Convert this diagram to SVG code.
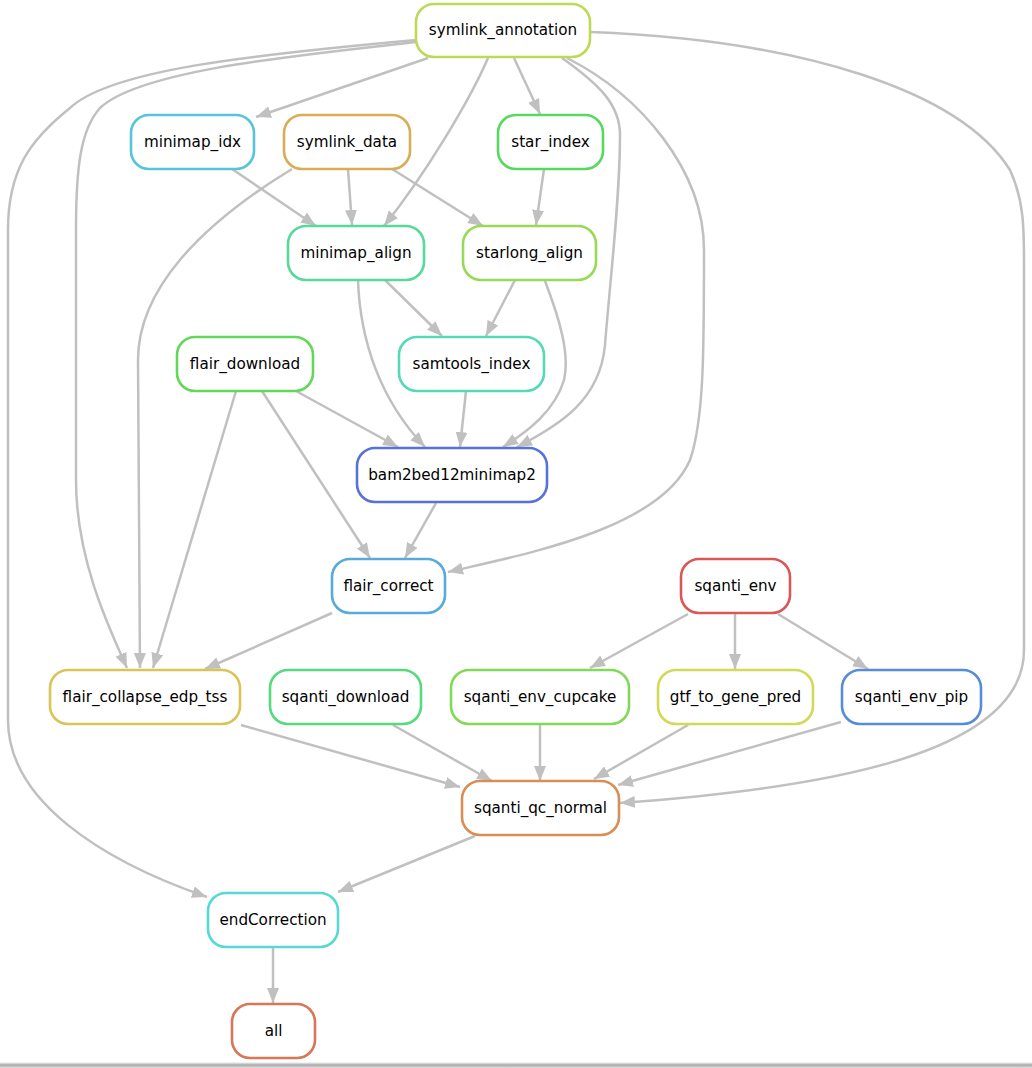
<svg xmlns="http://www.w3.org/2000/svg" width="1032" height="1068" viewBox="0 0 1032 1068">
<style>
.n rect{fill:#fff;stroke-width:2.6}
.n text{font-family:"DejaVu Sans",sans-serif;font-size:15.2px;fill:#000;text-anchor:middle}
.e path{fill:none;stroke:#c0c0c0;stroke-width:2.5;marker-end:url(#ah)}
</style>
<defs>
<marker id="ah" markerUnits="userSpaceOnUse" markerWidth="16" markerHeight="12" refX="15" refY="6" orient="auto">
<path d="M0,0 L15,6 L0,12 z" fill="#c0c0c0"/>
</marker>
<linearGradient id="sh" x1="0" y1="0" x2="0" y2="1">
<stop offset="0" stop-color="#fff"/>
<stop offset="0.5" stop-color="#a8a8a8"/>
<stop offset="1" stop-color="#e0e0e0"/>
</linearGradient>
</defs>
<rect x="0" y="0" width="1032" height="1068" fill="#fff"/>
<rect x="0" y="1062" width="1032" height="6" fill="url(#sh)"/>
<g id="connectors" class="e">
<path d="M428,58 L256,117"/>
<path d="M488,58 C470,100 425,175 384,226"/>
<path d="M514,58 L540,114"/>
<path d="M562,58 C600,85 620,105 620,135 C620,200 610,280 605,345 C600,400 560,425 517,447"/>
<path d="M567,58 C640,95 704,170 704,250 C704,350 704,420 690,460 C660,530 520,555 448,572"/>
<path d="M416,42 C300,55 140,70 100,108 C80,130 76,170 76,230 L76,480 C76,560 110,630 127,668"/>
<path d="M416,40 C250,55 110,70 70,108 C30,140 8,170 8,230 L8,720 C8,800 100,860 207,897"/>
<path d="M590,32 C800,40 960,90 1010,170 C1024,200 1024,230 1024,260 L1024,650 C1024,760 800,790 620,803"/>
<path d="M348,169 L352,225"/>
<path d="M392,169 L483,226"/>
<path d="M292,169 C200,225 138,290 138,360 L140,668"/>
<path d="M232,169 L316,226"/>
<path d="M544,169 L536,225"/>
<path d="M385,280 L442,336"/>
<path d="M358,280 C360,340 380,400 425,447"/>
<path d="M515,280 L486,336"/>
<path d="M545,281 C560,320 570,355 564,380 C555,410 530,430 503,447"/>
<path d="M296,391 L398,447"/>
<path d="M262,391 L370,558"/>
<path d="M236,391 L153,668"/>
<path d="M466,391 L460,447"/>
<path d="M436,503 L405,558"/>
<path d="M332,613 L205,669"/>
<path d="M688,614 L590,668"/>
<path d="M735,614 L735,669"/>
<path d="M778,614 L868,669"/>
<path d="M241,725 L460,787"/>
<path d="M393,725 L492,781"/>
<path d="M540,725 L540,781"/>
<path d="M688,725 L594,779"/>
<path d="M841,722 L618,785"/>
<path d="M475,836 L338,892"/>
<path d="M273,947 L273,1003"/>
</g>
<g id="symlink_annotation" class="n"><rect x="416" y="4" width="174" height="53" rx="18" stroke="#bed957"/><text x="503" y="35">symlink_annotation</text></g>
<g id="minimap_idx" class="n"><rect x="131" y="115" width="123" height="54" rx="18" stroke="#57c4d9"/><text x="192.5" y="147">minimap_idx</text></g>
<g id="symlink_data" class="n"><rect x="284" y="115" width="126" height="54" rx="18" stroke="#d9ad57"/><text x="347" y="147">symlink_data</text></g>
<g id="star_index" class="n"><rect x="498" y="115" width="105" height="54" rx="18" stroke="#57d95f"/><text x="550.5" y="147">star_index</text></g>
<g id="minimap_align" class="n"><rect x="288" y="226" width="136" height="54" rx="18" stroke="#57d998"/><text x="356" y="258">minimap_align</text></g>
<g id="starlong_align" class="n"><rect x="463" y="226" width="133" height="54" rx="18" stroke="#98d957"/><text x="529.5" y="258">starlong_align</text></g>
<g id="flair_download" class="n"><rect x="177" y="337" width="136" height="54" rx="18" stroke="#61d957"/><text x="245" y="369">flair_download</text></g>
<g id="samtools_index" class="n"><rect x="399" y="337" width="145" height="54" rx="18" stroke="#57d9b6"/><text x="471.5" y="369">samtools_index</text></g>
<g id="bam2bed12minimap2" class="n"><rect x="357" y="448" width="190" height="54" rx="18" stroke="#5772d9"/><text x="452" y="480">bam2bed12minimap2</text></g>
<g id="flair_correct" class="n"><rect x="332" y="559" width="113" height="54" rx="18" stroke="#57aad9"/><text x="388.5" y="591">flair_correct</text></g>
<g id="sqanti_env" class="n"><rect x="681" y="559" width="109" height="54" rx="18" stroke="#d95757"/><text x="735.5" y="591">sqanti_env</text></g>
<g id="flair_collapse_edp_tss" class="n"><rect x="50" y="670" width="190" height="54" rx="18" stroke="#d9c457"/><text x="145" y="702">flair_collapse_edp_tss</text></g>
<g id="sqanti_download" class="n"><rect x="270" y="670" width="151" height="54" rx="18" stroke="#57d97e"/><text x="345.5" y="702">sqanti_download</text></g>
<g id="sqanti_env_cupcake" class="n"><rect x="451" y="670" width="178" height="54" rx="18" stroke="#83d957"/><text x="540" y="702">sqanti_env_cupcake</text></g>
<g id="gtf_to_gene_pred" class="n"><rect x="658" y="670" width="155" height="54" rx="18" stroke="#d2d957"/><text x="735.5" y="702">gtf_to_gene_pred</text></g>
<g id="sqanti_env_pip" class="n"><rect x="842" y="670" width="139" height="54" rx="18" stroke="#578cd9"/><text x="911.5" y="702">sqanti_env_pip</text></g>
<g id="sqanti_qc_normal" class="n"><rect x="462" y="781" width="157" height="54" rx="18" stroke="#d98d57"/><text x="540.5" y="813">sqanti_qc_normal</text></g>
<g id="endCorrection" class="n"><rect x="208" y="893" width="130" height="54" rx="18" stroke="#57d9d2"/><text x="273" y="925">endCorrection</text></g>
<g id="all" class="n"><rect x="232" y="1004" width="83" height="54" rx="18" stroke="#d97657"/><text x="273.5" y="1036">all</text></g>
</svg>
